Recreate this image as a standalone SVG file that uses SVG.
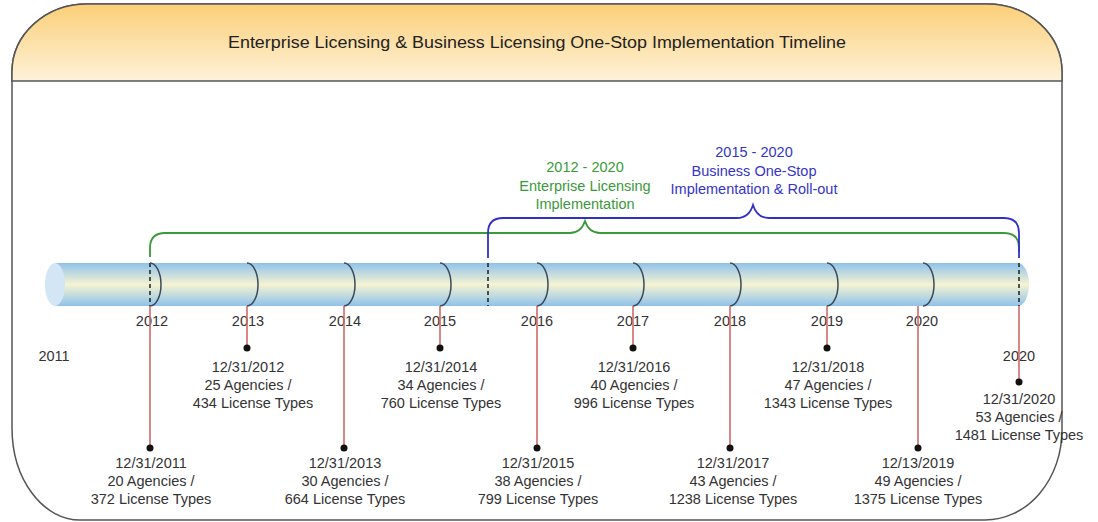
<svg xmlns="http://www.w3.org/2000/svg" width="1098" height="522" viewBox="0 0 1098 522">
<defs>
<linearGradient id="hdr" x1="0" y1="0" x2="0" y2="1">
<stop offset="0" stop-color="#fbcf78"/>
<stop offset="1" stop-color="#fef2d9"/>
</linearGradient>
<linearGradient id="cyl" x1="0" y1="0" x2="0" y2="1">
<stop offset="0" stop-color="#8fc2ea"/>
<stop offset="0.5" stop-color="#f6f3d2"/>
<stop offset="1" stop-color="#8fc2ea"/>
</linearGradient>
<clipPath id="hclip"><rect x="0" y="0" width="1098" height="81"/></clipPath>
</defs>
<style>
.t{font-family:"Liberation Sans",Arial,sans-serif;font-size:14.5px;fill:#333;text-anchor:middle}
.g{fill:#3a9a3a}
.b{fill:#3535c8}
.stem{stroke:#d06a6a;stroke-width:1.6;fill:none}
.dot{fill:#111}
.arc{stroke:#3a4a5a;stroke-width:1.5;fill:none}
.dash{stroke:#111;stroke-width:1.4;stroke-dasharray:4 3;fill:none}
</style>
<g id="frame">
<path d="M12,520 L12,426 A75 95 0 0 0 80,520 Z" fill="none"/>
<path d="M87,4 L987,4 A75 68 0 0 1 1062,72 L1062,430 A77 90 0 0 1 985,520 L80,520 A68 92 0 0 1 12,428 L12,72 A75 68 0 0 1 87,4 Z" fill="#fff" stroke="#555" stroke-width="1.5"/>
<path d="M87,4 L987,4 A75 68 0 0 1 1062,72 L1062,81 L12,81 L12,72 A75 68 0 0 1 87,4 Z" fill="url(#hdr)" stroke="#555" stroke-width="1.5"/>
<text x="537" y="48" font-family="Liberation Sans,Arial,sans-serif" font-size="16" fill="#222" text-anchor="middle" textLength="618" lengthAdjust="spacingAndGlyphs">Enterprise Licensing &amp; Business Licensing One-Stop Implementation Timeline</text>
</g>
<g id="timeline">
<path d="M55,263 L1018,263 A11 21.5 0 0 1 1018,306 L55,306 Z" fill="url(#cyl)"/>
<ellipse cx="55" cy="284.5" rx="10" ry="21.5" fill="#d3e6f5"/>
<path class="dash" d="M150,263 V306 M488,263 V306 M1019,263 V306"/>
<path class="arc" d="M150,263 A11 21.5 0 0 1 150,306 M247,263 A11 21.5 0 0 1 247,306 M344,263 A11 21.5 0 0 1 344,306 M440,263 A11 21.5 0 0 1 440,306 M537,263 A11 21.5 0 0 1 537,306 M633,263 A11 21.5 0 0 1 633,306 M730,263 A11 21.5 0 0 1 730,306 M827,263 A11 21.5 0 0 1 827,306 M923,263 A11 21.5 0 0 1 923,306"/>
<text class="t" x="152" y="326">2012</text>
<text class="t" x="248" y="326">2013</text>
<text class="t" x="345" y="326">2014</text>
<text class="t" x="440" y="326">2015</text>
<text class="t" x="537" y="326">2016</text>
<text class="t" x="633" y="326">2017</text>
<text class="t" x="730" y="326">2018</text>
<text class="t" x="827" y="326">2019</text>
<text class="t" x="922" y="326">2020</text>
<text class="t" x="54" y="361">2011</text>
<text class="t" x="1019" y="361">2020</text>
</g>
<g id="connectors">
<path class="stem" d="M150,306 V448 M247,306 V348 M344,306 V448 M440,306 V348 M537,306 V448 M633,306 V348 M730,306 V448 M827,306 V348 M918,306 V448 M1019,306 V382"/>
<path d="M150,257 V248 Q150,233 165,233 H570 Q581,233 585,221 Q589,233 600,233 H1004 Q1019,233 1019,248 V252" fill="none" stroke="#3a9a3a" stroke-width="1.8"/>
<path d="M488,258 V233 Q488,218 503,218 H737 Q749,218 753,205 Q757,218 769,218 H1004 Q1019,218 1019,233 V258" fill="none" stroke="#3030c8" stroke-width="1.8"/>
</g>
<g id="bracket-labels">
<text class="t g" x="585" y="172">2012 - 2020</text>
<text class="t g" x="585" y="191">Enterprise Licensing</text>
<text class="t g" x="585" y="209">Implementation</text>
<text class="t b" x="754" y="157">2015 - 2020</text>
<text class="t b" x="754" y="176">Business One-Stop</text>
<text class="t b" x="754" y="194">Implementation &amp; Roll-out</text>
</g>
<g id="m2011"><circle class="dot" cx="150" cy="448" r="3.5"/><text class="t" x="151" y="468">12/31/2011</text><text class="t" x="151" y="486">20 Agencies /</text><text class="t" x="151" y="504">372 License Types</text></g>
<g id="m2012"><circle class="dot" cx="247" cy="348" r="3.5"/><text class="t" x="248" y="372">12/31/2012</text><text class="t" x="248" y="390">25 Agencies /</text><text class="t" x="253" y="408">434 License Types</text></g>
<g id="m2013"><circle class="dot" cx="344" cy="448" r="3.5"/><text class="t" x="345" y="468">12/31/2013</text><text class="t" x="345" y="486">30 Agencies /</text><text class="t" x="345" y="504">664 License Types</text></g>
<g id="m2014"><circle class="dot" cx="440" cy="348" r="3.5"/><text class="t" x="441" y="372">12/31/2014</text><text class="t" x="441" y="390">34 Agencies /</text><text class="t" x="441" y="408">760 License Types</text></g>
<g id="m2015"><circle class="dot" cx="537" cy="448" r="3.5"/><text class="t" x="538" y="468">12/31/2015</text><text class="t" x="538" y="486">38 Agencies /</text><text class="t" x="538" y="504">799 License Types</text></g>
<g id="m2016"><circle class="dot" cx="633" cy="348" r="3.5"/><text class="t" x="634" y="372">12/31/2016</text><text class="t" x="634" y="390">40 Agencies /</text><text class="t" x="634" y="408">996 License Types</text></g>
<g id="m2017"><circle class="dot" cx="730" cy="448" r="3.5"/><text class="t" x="733" y="468">12/31/2017</text><text class="t" x="733" y="486">43 Agencies /</text><text class="t" x="733" y="504">1238 License Types</text></g>
<g id="m2018"><circle class="dot" cx="827" cy="348" r="3.5"/><text class="t" x="828" y="372">12/31/2018</text><text class="t" x="828" y="390">47 Agencies /</text><text class="t" x="828" y="408">1343 License Types</text></g>
<g id="m2019"><circle class="dot" cx="918" cy="448" r="3.5"/><text class="t" x="918" y="468">12/13/2019</text><text class="t" x="918" y="486">49 Agencies /</text><text class="t" x="918" y="504">1375 License Types</text></g>
<g id="m2020"><circle class="dot" cx="1019" cy="382" r="3.5"/><text class="t" x="1019" y="404">12/31/2020</text><text class="t" x="1019" y="422">53 Agencies /</text><text class="t" x="1019" y="440">1481 License Types</text></g>
</svg>
